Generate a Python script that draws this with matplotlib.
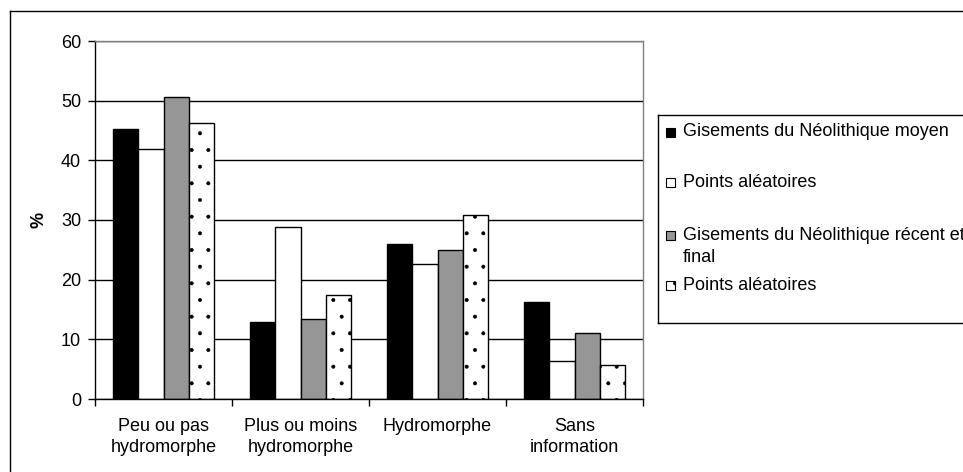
import matplotlib
matplotlib.use("Agg")
import matplotlib.pyplot as plt
from matplotlib.patches import Rectangle
from matplotlib.lines import Line2D
import numpy as np

plt.rcParams['font.family'] = ['Liberation Sans', 'DejaVu Sans']
plt.rcParams['hatch.linewidth'] = 0.4

categories = ["Peu ou pas\nhydromorphe", "Plus ou moins\nhydromorphe", "Hydromorphe", "Sans\ninformation"]
series_names = ["Gisements du Néolithique moyen", "Points aléatoires",
                "Gisements du Néolithique récent et\nfinal", "Points aléatoires"]
neo_moyen = [45.2, 12.9, 25.9, 16.2]
points_1 = [41.9, 28.9, 22.6, 6.4]
neo_recent = [50.6, 13.4, 24.9, 11.1]
points_2 = [46.2, 17.4, 30.8, 5.7]
series_values = [neo_moyen, points_1, neo_recent, points_2]
face_colors = ["#000000", "#ffffff", "#969696", "#ffffff"]
hatches = [None, None, None, "."]
y_ticks = [0, 10, 20, 30, 40, 50, 60]

W, H = 963, 472
fig = plt.figure(figsize=(W / 100, H / 100), dpi=100)

def fx(px):
    return px / W

def fy(py):
    return 1 - py / H

ax = fig.add_axes([fx(95), fy(399), fx(643) - fx(95), fy(41) - fy(399)])

x = np.arange(len(categories))
bw = 0.186
for i, vals in enumerate(series_values):
    ax.bar(x + (i - 1.5) * bw, vals, width=bw, color=face_colors[i], edgecolor="black",
           linewidth=1.0, hatch=hatches[i], zorder=2)

ax.set_xlim(-0.5, len(categories) - 0.5)
ax.set_ylim(0, 60)
ax.set_yticks(y_ticks)
ax.set_yticklabels([str(t) for t in y_ticks])
ax.set_xticks(x)
ax.set_xticklabels(categories, linespacing=1.3)
ax.set_xticks(np.arange(-0.5, len(categories)), minor=True)
ax.tick_params(axis='x', which='major', length=0, pad=14, labelsize=13)
ax.tick_params(axis='x', which='minor', length=5, width=1, direction='out')
ax.tick_params(axis='y', length=5, width=1, direction='out', pad=5, labelsize=13)

ax.set_axisbelow(True)
ax.yaxis.grid(True, color='black', linewidth=1.0)
for s in ['top', 'right']:
    ax.spines[s].set_color('#808080')
    ax.spines[s].set_linewidth(1.0)
for s in ['left', 'bottom']:
    ax.spines[s].set_color('black')
    ax.spines[s].set_linewidth(1.0)

ax.set_ylabel('%', fontsize=13, fontweight='bold')
ax.yaxis.set_label_coords((47 - 95) / 548, 0.5)

# outer chart frame
fig.add_artist(Line2D([fx(10), fx(10)], [fy(11), fy(480)], color='black', linewidth=1.0,
                      transform=fig.transFigure))
fig.add_artist(Line2D([fx(10), fx(970)], [fy(11), fy(11)], color='black', linewidth=1.0,
                      transform=fig.transFigure))

# legend frame
fig.add_artist(Line2D([fx(658), fx(658)], [fy(115), fy(323)], color='black', linewidth=1.0,
                      transform=fig.transFigure))
fig.add_artist(Line2D([fx(658), fx(970)], [fy(115), fy(115)], color='black', linewidth=1.0,
                      transform=fig.transFigure))
fig.add_artist(Line2D([fx(658), fx(970)], [fy(323), fy(323)], color='black', linewidth=1.0,
                      transform=fig.transFigure))

legend_y = [132, 182, 235, 285]
for i, name in enumerate(series_names):
    yc = legend_y[i]
    fig.add_artist(Rectangle((fx(666), fy(yc + 4.5)), fx(9), 9 / H, facecolor=face_colors[i],
                             edgecolor='black', linewidth=0.8, hatch=hatches[i],
                             transform=fig.transFigure))
    fig.text(fx(683), fy(yc), name.split("\n")[0], fontsize=13, va='center', ha='left')
    if "\n" in name:
        fig.text(fx(683), fy(yc + 22), name.split("\n")[1], fontsize=13, va='center', ha='left')

fig.savefig("out.png", dpi=100)
